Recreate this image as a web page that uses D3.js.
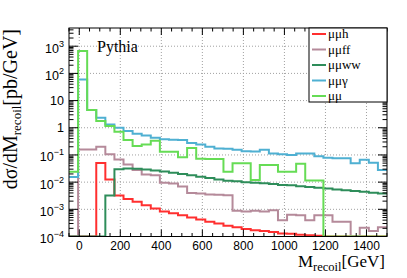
<!DOCTYPE html>
<html>
<head>
<meta charset="utf-8">
<script src="https://cdn.jsdelivr.net/npm/d3@7"></script>
<style>
  body { margin: 0; background: #fff; }
  text { fill: #000; }
</style>
</head>
<body>
<svg id="chart" width="407" height="278"></svg>
<script>
// histogram binning: 35 bins from -50 to 1500 GeV
const binLow = -50;
const binHigh = 1500;
const nBins = 35;

// dsigma/dM per bin (pb/GeV), 0 = empty bin
const mumuH = [0, 0, 0, 0.051, 0.0126, 0.0032, 0.0024, 0.0019, 0.0014, 0.00107,
  0.00083, 0.00071, 0.0006, 0.0005, 0.00042, 0.00035, 0.0003, 0.00025, 0.00022, 0.00019,
  0.00017, 0.00016, 0.000145, 0.00013, 0.000126, 0.000117, 0.000112, 0.000107, 0, 0,
  0, 0, 0, 0, 0];
const mumuFF = [0, 0.158, 0.158, 0.2, 0.105, 0.068, 0.045, 0.028, 0.019, 0.0178,
  0.0095, 0.0089, 0.0069, 0.004, 0.0038, 0.0035, 0.0034, 0.0033, 0.00089, 0.00083,
  0.00089, 0.00083, 0.00093, 0.0004, 0.00063, 0.0006, 0.0004, 0.0006, 0.0006, 0.00035,
  0.00035, 0, 0.00021, 0.00016, 0.00022];
const mumuWW = [0, 0, 0, 0, 0.0032, 0.0295, 0.0316, 0.031, 0.029, 0.027,
  0.0245, 0.022, 0.02, 0.0178, 0.0158, 0.0141, 0.0126, 0.0112, 0.0107, 0.01,
  0.0095, 0.0091, 0.0085, 0.0079, 0.0076, 0.0071, 0.0066, 0.0062, 0.0058, 0.0054,
  0.005, 0.0047, 0.0044, 0.0041, 0.0038];
const mumuGamma = [0.0155, 60, 4.5, 2.35, 1.32, 1.0, 0.76, 0.6, 0.52, 0.43,
  0.38, 0.36, 0.355, 0.275, 0.24, 0.2, 0.174, 0.17, 0.155, 0.138,
  0.135, 0.155, 0.112, 0.105, 0.1, 0.112, 0.112, 0.089, 0.079, 0.076,
  0.076, 0.05, 0.066, 0.052, 0.028];
const mumu = [0.024, 660, 4.5, 1.76, 1.15, 0.71, 0.355, 0.214, 0.24, 0.33,
  0.132, 0.132, 0.083, 0.182, 0.072, 0.071, 0.071, 0.024, 0.05, 0.05,
  0.012, 0.043, 0.043, 0.024, 0.024, 0.047, 0.0115, 0.0115, 0, 0,
  0, 0, 0, 0, 0];

const labels = ['μμh', 'μμff', 'μμww', 'μμγ', 'μμ'];
const colors = ['#ff2f2f', '#b58a9a', '#2e8d5a', '#4fb0d2', '#66dc55'];
const xTicks = [0, 200, 400, 600, 800, 1000, 1200, 1400];
const yDecades = [-4, -3, -2, -1, 0, 1, 2, 3];

const svg = d3.select('#chart');
const fLeft = 69, fRight = 387, fTop = 28, fBottom = 236.5;

const x = d3.scaleLinear().domain([binLow, binHigh]).range([fLeft, fRight]);
const y = d3.scaleLog().domain([1e-4, Math.pow(10, 3.67)]).range([fBottom, fTop]);

// grid
const grid = svg.append('g').attr('stroke', '#a0a0a0').attr('stroke-width', 1)
  .attr('stroke-dasharray', '1,2');
xTicks.forEach(t => {
  grid.append('line').attr('x1', x(t)).attr('x2', x(t)).attr('y1', fTop).attr('y2', fBottom);
});
yDecades.slice(1).forEach(p => {
  grid.append('line').attr('x1', fLeft).attr('x2', fRight)
    .attr('y1', y(Math.pow(10, p))).attr('y2', y(Math.pow(10, p)));
});

// histograms
const edges = d3.range(nBins + 1).map(i => binLow + i * (binHigh - binLow) / nBins);
const step = d3.line()
  .x(d => x(d[0]))
  .y(d => y(Math.max(d[1], 1e-4)))
  .curve(d3.curveStepAfter);

svg.append('clipPath').attr('id', 'frame')
  .append('rect').attr('x', fLeft).attr('y', fTop)
  .attr('width', fRight - fLeft).attr('height', fBottom - fTop);

const hists = [mumuH, mumuFF, mumuWW, mumuGamma, mumu];
hists.forEach((vals, i) => {
  const pts = vals.map((v, k) => [edges[k], v]);
  pts.push([edges[nBins], vals[nBins - 1]]);
  svg.append('path')
    .attr('clip-path', 'url(#frame)')
    .attr('d', step(pts))
    .attr('fill', 'none')
    .attr('stroke', colors[i])
    .attr('stroke-width', 2);
});

// frame
svg.append('rect').attr('x', fLeft).attr('y', fTop)
  .attr('width', fRight - fLeft).attr('height', fBottom - fTop)
  .attr('fill', 'none').attr('stroke', '#000').attr('stroke-width', 1);

// ticks
const ticks = svg.append('g').attr('stroke', '#000').attr('stroke-width', 1);
d3.range(-50, 1501, 50).forEach(t => {
  const len = t % 200 === 0 ? 7 : 3.5;
  ticks.append('line').attr('x1', x(t)).attr('x2', x(t)).attr('y1', fBottom).attr('y2', fBottom - len);
  ticks.append('line').attr('x1', x(t)).attr('x2', x(t)).attr('y1', fTop).attr('y2', fTop + len);
});
y.ticks().forEach(t => {
  const major = Math.abs(Math.log10(t) - Math.round(Math.log10(t))) < 1e-6;
  const len = major ? 9 : 4.5;
  ticks.append('line').attr('x1', fLeft).attr('x2', fLeft + len).attr('y1', y(t)).attr('y2', y(t));
  ticks.append('line').attr('x1', fRight).attr('x2', fRight - len).attr('y1', y(t)).attr('y2', y(t));
});

// x tick labels
svg.append('g').selectAll('text').data(xTicks).join('text')
  .attr('x', d => x(d)).attr('y', 250)
  .attr('text-anchor', 'middle')
  .attr('font-family', 'Liberation Sans, Arial, sans-serif')
  .attr('font-size', 12)
  .text(d => d);

// y tick labels
yDecades.forEach(p => {
  const t = svg.append('text')
    .attr('x', 64)
    .attr('text-anchor', 'end')
    .attr('font-family', 'Liberation Sans, Arial, sans-serif')
    .attr('font-size', 12.5);
  if (p === 0) {
    t.attr('y', y(1) + 4.5).text('1');
  } else if (p === 1) {
    t.attr('y', y(10) + 4.5).text('10');
  } else {
    t.attr('y', y(Math.pow(10, p)) + 6.5);
    t.append('tspan').text('10');
    t.append('tspan').attr('dy', -6).attr('font-size', 9)
      .text(p < 0 ? '\u2212' + Math.abs(p) : p);
  }
});

// axis titles
const xt = svg.append('text')
  .attr('x', 385).attr('y', 267)
  .attr('text-anchor', 'end')
  .attr('font-family', 'Liberation Serif, Times New Roman, serif')
  .attr('font-size', 17);
xt.append('tspan').text('M');
xt.append('tspan').attr('dy', 4).attr('font-size', 12.5).text('recoil');
xt.append('tspan').attr('dy', -4).text('[GeV]');

const yt = svg.append('text')
  .attr('transform', 'translate(17,29) rotate(-90)')
  .attr('text-anchor', 'end')
  .attr('font-family', 'Liberation Serif, Times New Roman, serif')
  .attr('font-size', 20);
yt.append('tspan').text('dσ/dM');
yt.append('tspan').attr('dy', 4).attr('font-size', 13).text('recoil');
yt.append('tspan').attr('dy', -4).text('[pb/GeV]');

// label
svg.append('text')
  .attr('x', 97).attr('y', 52)
  .attr('font-family', 'Liberation Serif, Times New Roman, serif')
  .attr('font-size', 16)
  .text('Pythia');

// legend
const lg = svg.append('g');
lg.append('rect').attr('x', 309).attr('y', 28).attr('width', 78).attr('height', 74)
  .attr('fill', '#fff').attr('stroke', '#000').attr('stroke-width', 1);
labels.forEach((name, i) => {
  const ly = 34 + i * 15.5;
  lg.append('line').attr('x1', 312).attr('x2', 326).attr('y1', ly).attr('y2', ly)
    .attr('stroke', colors[i]).attr('stroke-width', 2);
  lg.append('text').attr('x', 328).attr('y', ly + 4)
    .attr('font-family', 'Liberation Serif, Times New Roman, serif')
    .attr('font-size', 13)
    .text(name);
});
</script>
</body>
</html>
